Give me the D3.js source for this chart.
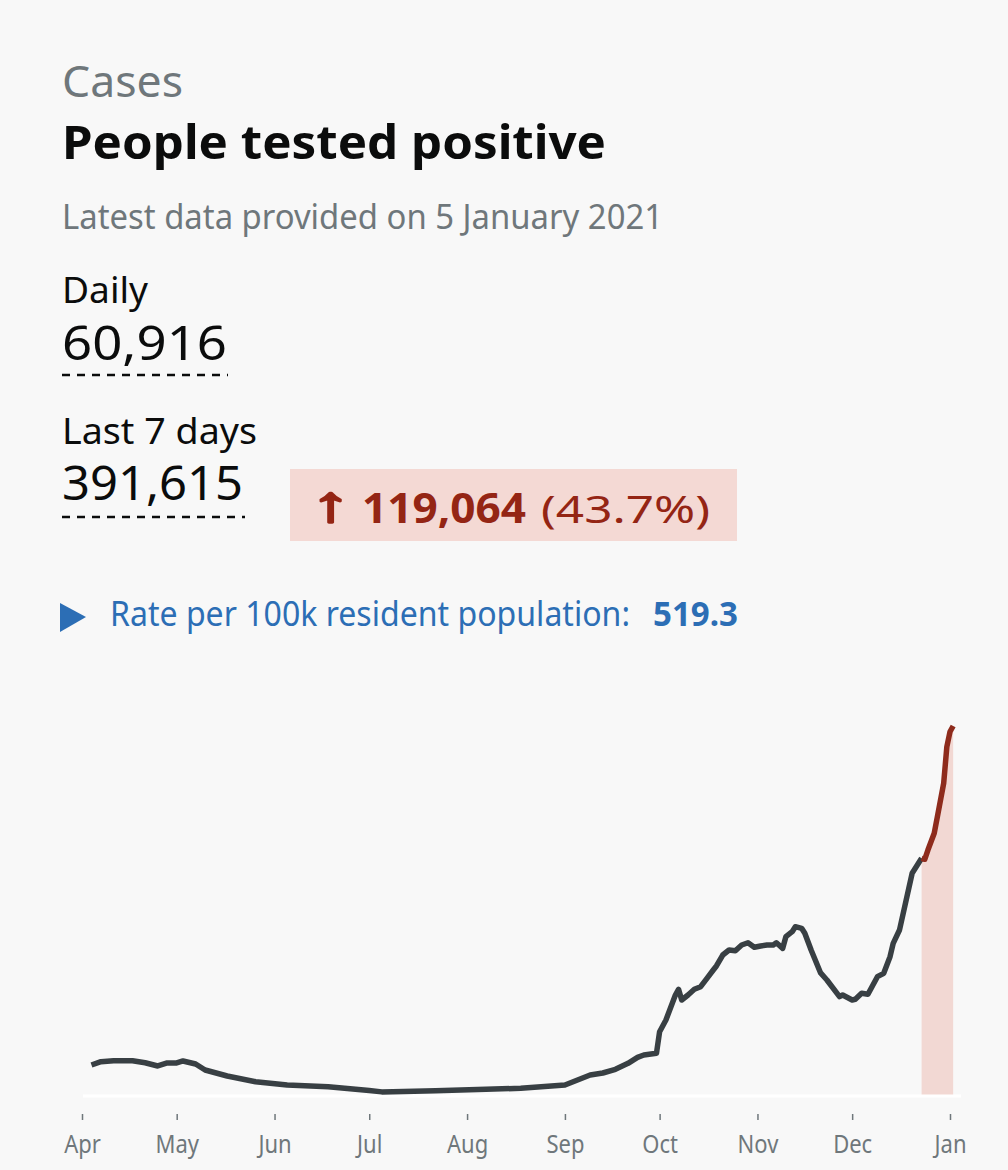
<!DOCTYPE html>
<html>
<head>
<meta charset="utf-8">
<script src="https://cdn.jsdelivr.net/npm/d3@7"></script>
<style>
  html, body { margin: 0; padding: 0; background: #f8f8f8; }
  svg { display: block; }
  text { font-family: "Noto Sans", "Open Sans", sans-serif; }
</style>
</head>
<body>
<svg id="chart"></svg>
<script>
// 7-day average of people tested positive
const dates = [
  "2020-04-04","2020-04-07","2020-04-11","2020-04-17","2020-04-21","2020-04-25","2020-04-28",
  "2020-05-01","2020-05-03","2020-05-07","2020-05-10","2020-05-17","2020-05-26",
  "2020-06-05","2020-06-18","2020-07-01","2020-07-05","2020-07-22","2020-08-07","2020-08-18",
  "2020-09-01","2020-09-05","2020-09-09","2020-09-13","2020-09-17","2020-09-21","2020-09-24",
  "2020-09-26","2020-09-30","2020-10-01","2020-10-03","2020-10-06","2020-10-07","2020-10-08",
  "2020-10-10","2020-10-12","2020-10-14","2020-10-16","2020-10-18","2020-10-19","2020-10-21",
  "2020-10-23","2020-10-25","2020-10-27","2020-10-29","2020-10-31","2020-11-02","2020-11-04",
  "2020-11-06","2020-11-07","2020-11-09","2020-11-10","2020-11-12","2020-11-13","2020-11-15",
  "2020-11-16","2020-11-18","2020-11-21","2020-11-23","2020-11-27","2020-11-28","2020-12-01",
  "2020-12-02","2020-12-04","2020-12-06","2020-12-09","2020-12-11","2020-12-13","2020-12-14",
  "2020-12-16","2020-12-20","2020-12-21","2020-12-23"
];
const values = [
  4620, 5130, 5280, 5280, 4970, 4470, 4930,
  4930, 5240, 4770, 3850, 2930, 2050,
  1540, 1280, 700, 480, 660, 880, 1030,
  1540, 2310, 3080, 3390, 3960, 4880, 5800,
  6160, 6420, 9750, 11550, 15400, 16280, 14630,
  15400, 16280, 16680, 17970, 19250, 19870, 21560,
  22330, 22220, 23100, 23450, 22750, 22950, 23100,
  23100, 23450, 22590, 24380, 25150, 25920, 25670,
  24900, 22330, 18800, 17710, 15140, 15400, 14630,
  14740, 15660, 15510, 18220, 18740, 21300, 23360,
  25410, 34140, 34910, 36450
];
// most recent (incomplete) period, drawn in red
const recentDates = [
  "2020-12-23","2020-12-24","2020-12-25","2020-12-27","2020-12-28",
  "2020-12-30","2020-12-31","2021-01-01","2021-01-02"
];
const recentValues = [36450, 36300, 37730, 40300, 42860, 48000, 53640, 55950, 56830];

const dailyValue = "60,916";
const weekValue = "391,615";
const changeValue = "119,064";
const changePct = "(43.7%)";
const rateValue = "519.3";

const W = 1008, H = 1170;
const svg = d3.select("#chart").attr("width", W).attr("height", H);
svg.append("rect").attr("width", W).attr("height", H).attr("fill", "#f8f8f8");

function label(x, y, str, size, len, opts = {}) {
  const t = svg.append("text")
    .attr("x", x).attr("y", y)
    .attr("font-size", size)
    .attr("font-weight", opts.weight || 400)
    .attr("fill", opts.fill || "#0b0c0c")
    .attr("textLength", len)
    .attr("lengthAdjust", "spacingAndGlyphs")
    .text(str);
  if (opts.family) t.attr("font-family", opts.family);
  return t;
}

// header
label(62, 97, "Cases", 44, 121, { fill: "#6f777b" });
label(62, 159, "People tested positive", 47, 544, { weight: 700 });
label(62, 229, "Latest data provided on 5 January 2021", 34, 601, { fill: "#6f777b" });

label(62, 303, "Daily", 37, 86);
label(62, 360, dailyValue, 47, 165);
label(62, 444, "Last 7 days", 37, 195);
label(62, 500, weekValue, 47, 181);

const dash = [[62, 228, 375], [62, 245, 517]];
dash.forEach(([x1, x2, yy]) => {
  svg.append("line")
    .attr("x1", x1).attr("x2", x2).attr("y1", yy).attr("y2", yy)
    .attr("stroke", "#0b0c0c").attr("stroke-width", 2.5)
    .attr("stroke-dasharray", "8,7");
});

// change box
svg.append("rect")
  .attr("x", 290).attr("y", 469).attr("width", 447).attr("height", 72)
  .attr("fill", "#f4d9d4");
label(311, 521, "\u2191", 50, 40, { fill: "#942514", weight: 700, family: "'DejaVu Sans', sans-serif" })
  .attr("stroke", "#942514").attr("stroke-width", 2.2).attr("stroke-linejoin", "round");
label(362, 523, changeValue, 42, 164, { weight: 700, fill: "#942514" });
label(541, 523, changePct, 38, 169, { fill: "#942514" });

// rate per 100k
svg.append("path")
  .attr("d", "M60,603 L86,617 L60,632 Z")
  .attr("fill", "#2c6eb5");
const rate = svg.append("text")
  .attr("x", 110).attr("y", 626)
  .attr("font-size", 34)
  .attr("fill", "#2c6eb5");
rate.append("tspan")
  .attr("textLength", 520).attr("lengthAdjust", "spacingAndGlyphs")
  .text("Rate per 100k resident population:");
rate.append("tspan")
  .attr("x", 653)
  .attr("font-weight", 700)
  .attr("textLength", 85).attr("lengthAdjust", "spacingAndGlyphs")
  .text(rateValue);

// chart
const parse = d3.timeParse("%Y-%m-%d");
const main = dates.map((d, i) => ({ date: parse(d), value: values[i] }));
const recent = recentDates.map((d, i) => ({ date: parse(d), value: recentValues[i] }));

const x = d3.scaleTime()
  .domain([parse("2020-04-01"), parse("2021-01-01")])
  .range([82, 950]);
const y = d3.scaleLinear()
  .domain([0, d3.max(recentValues)])
  .range([1095, 726]);

svg.append("path")
  .datum(recent)
  .attr("fill", "#f2d8d3")
  .attr("d", d3.area().x(d => x(d.date)).y0(y(0)).y1(d => y(d.value)));

svg.append("line")
  .attr("x1", 83).attr("x2", 961)
  .attr("y1", 1096).attr("y2", 1096)
  .attr("stroke", "#ffffff").attr("stroke-width", 3);

const line = d3.line().x(d => x(d.date)).y(d => y(d.value));

svg.append("path")
  .datum(main)
  .attr("fill", "none")
  .attr("stroke", "#383f43")
  .attr("stroke-width", 5.5)
  .attr("stroke-linejoin", "round")
  .attr("d", line);

svg.append("path")
  .datum(recent)
  .attr("fill", "none")
  .attr("stroke", "#8e2b1c")
  .attr("stroke-width", 5.5)
  .attr("stroke-linejoin", "round")
  .attr("d", line);

const axis = svg.append("g")
  .attr("transform", "translate(0,1114)")
  .call(d3.axisBottom(x)
    .ticks(d3.timeMonth.every(1))
    .tickFormat(d3.timeFormat("%b"))
    .tickSize(6)
    .tickPadding(15));

axis.select(".domain").remove();
axis.selectAll(".tick line").attr("stroke", "#6f777b").attr("stroke-width", 1.5);
axis.selectAll(".tick text")
  .attr("fill", "#6f777b")
  .attr("font-size", 25)
  .attr("font-family", "'Liberation Sans', Arial, sans-serif")
  .attr("transform", "scale(0.88,1)");
</script>
</body>
</html>
